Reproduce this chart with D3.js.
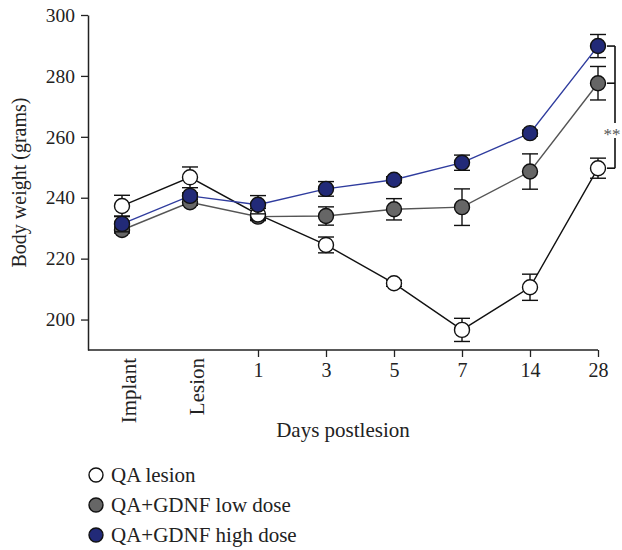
<!DOCTYPE html>
<html>
<head>
<meta charset="utf-8">
<script src="https://cdn.jsdelivr.net/npm/d3@7"></script>
<style>
  body { margin: 0; background: #fff; }
  svg text { font-family: "Liberation Serif", "DejaVu Serif", serif; fill: #222; }
</style>
</head>
<body>
<svg id="chart" width="622" height="550"></svg>
<script>
'use strict';

var days = ['Implant', 'Lesion', '1', '3', '5', '7', '14', '28'];
var yTicks = [200, 220, 240, 260, 280, 300];

var qaLesion = [237.3, 246.7, 234.5, 224.5, 211.9, 196.6, 210.6, 249.7];
var qaLesionErr = [3.5, 3.4, 2, 2.6, 1, 3.8, 4.3, 3.3];
var lowDose = [229.4, 238.5, 233.8, 234.0, 236.2, 236.9, 248.6, 277.6];
var lowDoseErr = [1, 1, 1, 3, 3.5, 6, 5.8, 5.5];
var highDose = [231.4, 240.6, 237.7, 242.9, 245.9, 251.5, 261.2, 289.8];
var highDoseErr = [2.6, 1, 3, 2.4, 1, 2.5, 1, 3.8];

var seriesNames = ['QA lesion', 'QA+GDNF low dose', 'QA+GDNF high dose'];

var series = [
  { name: seriesNames[1], values: lowDose, err: lowDoseErr, fill: '#666666', line: '#555555' },
  { name: seriesNames[0], values: qaLesion, err: qaLesionErr, fill: '#ffffff', line: '#111111' },
  { name: seriesNames[2], values: highDose, err: highDoseErr, fill: '#222a78', line: '#2f3c9e' }
];

(function() {
  var svg = d3.select('#chart');

  var left = 88, bottom = 350, topY = 15;

  var x = d3.scalePoint()
    .domain(days)
    .range([122, 598]);

  var y = d3.scaleLinear()
    .domain([190, 300])
    .range([bottom, topY]);

  // y axis
  var yAxis = svg.append('g')
    .attr('transform', `translate(${left},0)`)
    .call(d3.axisLeft(y).tickValues(yTicks).tickSize(7).tickSizeOuter(0).tickPadding(6));
  yAxis.select('.domain').attr('stroke', '#222').attr('stroke-width', 1.5);
  yAxis.selectAll('.tick line').attr('stroke', '#222').attr('stroke-width', 1.3);
  yAxis.selectAll('.tick text')
    .style('font-size', '19.5px');

  // x axis
  var xAxis = svg.append('g')
    .attr('transform', `translate(0,${bottom})`)
    .call(d3.axisBottom(x).tickSize(7).tickSizeOuter(0).tickPadding(6));
  xAxis.select('.domain').remove();
  xAxis.append('line')
    .attr('x1', left)
    .attr('x2', x(days[days.length - 1]))
    .attr('stroke', '#222')
    .attr('stroke-width', 1.5);
  xAxis.selectAll('.tick line').attr('stroke', '#222').attr('stroke-width', 1.3);
  xAxis.selectAll('.tick text').style('font-size', '20px');

  // the two pre-lesion labels are vertical and have no tick mark
  xAxis.selectAll('.tick')
    .filter(function(d) { return d === 'Implant' || d === 'Lesion'; })
    .each(function() {
      var t = d3.select(this);
      t.select('line').remove();
      t.select('text')
        .attr('transform', 'rotate(-90)')
        .attr('x', -8)
        .attr('y', 6)
        .attr('dy', '0.35em')
        .attr('text-anchor', 'end')
        .style('font-size', '21px');
    });

  svg.append('text')
    .attr('transform', `translate(26,${(topY + bottom) / 2}) rotate(-90)`)
    .attr('text-anchor', 'middle')
    .style('font-size', '20px')
    .text('Body weight (grams)');

  svg.append('text')
    .attr('x', 343)
    .attr('y', 437)
    .attr('text-anchor', 'middle')
    .style('font-size', '21px')
    .text('Days postlesion');

  var line = d3.line()
    .x(function(d, i) { return x(days[i]); })
    .y(function(d) { return y(d); });

  var capW = 8;

  series.forEach(function(s) {
    var g = svg.append('g');

    g.append('path')
      .datum(s.values)
      .attr('d', line)
      .attr('fill', 'none')
      .attr('stroke', s.line)
      .attr('stroke-width', 1.4);

    var eb = g.selectAll('.err')
      .data(s.values)
      .enter()
      .append('g')
      .attr('stroke', '#111')
      .attr('stroke-width', 1.4);

    eb.append('line')
      .attr('x1', function(d, i) { return x(days[i]); })
      .attr('x2', function(d, i) { return x(days[i]); })
      .attr('y1', function(d, i) { return y(d + s.err[i]); })
      .attr('y2', function(d, i) { return y(d - s.err[i]); });

    [1, -1].forEach(function(sign) {
      eb.append('line')
        .attr('x1', function(d, i) { return x(days[i]) - capW; })
        .attr('x2', function(d, i) { return x(days[i]) + capW; })
        .attr('y1', function(d, i) { return y(d + sign * s.err[i]); })
        .attr('y2', function(d, i) { return y(d + sign * s.err[i]); });
    });

    g.selectAll('circle')
      .data(s.values)
      .enter()
      .append('circle')
      .attr('cx', function(d, i) { return x(days[i]); })
      .attr('cy', function(d) { return y(d); })
      .attr('r', 7.5)
      .attr('fill', s.fill)
      .attr('stroke', '#111')
      .attr('stroke-width', 1.4);
  });

  // significance bracket at day 28
  var last = days.length - 1;
  var bx = 615;
  var bTop = y(highDose[last]);
  var bBot = y(qaLesion[last]);
  var starY = 131;
  var bracket = svg.append('g')
    .attr('stroke', '#111')
    .attr('stroke-width', 1.6);
  bracket.append('line').attr('x1', bx).attr('x2', bx).attr('y1', bTop).attr('y2', starY - 8);
  bracket.append('line').attr('x1', bx).attr('x2', bx).attr('y1', starY + 7).attr('y2', bBot);
  [highDose[last], lowDose[last], qaLesion[last]].forEach(function(v) {
    bracket.append('line')
      .attr('x1', 607)
      .attr('x2', bx)
      .attr('y1', y(v))
      .attr('y2', y(v));
  });
  svg.append('text')
    .attr('x', 612)
    .attr('y', starY + 9)
    .attr('text-anchor', 'middle')
    .style('font-size', '17px')
    .style('fill', '#555')
    .text('**');

  // legend
  var legendOrder = [series[1], series[0], series[2]];
  var legend = svg.selectAll('.legend')
    .data(legendOrder)
    .enter()
    .append('g')
    .attr('transform', function(d, i) {
      return `translate(96,${475 + i * 30})`;
    });

  legend.append('circle')
    .attr('r', 7)
    .attr('fill', function(d) { return d.fill; })
    .attr('stroke', '#111')
    .attr('stroke-width', 1.4);

  legend.append('text')
    .attr('x', 15)
    .attr('y', 0)
    .attr('dy', '0.35em')
    .style('font-size', '21px')
    .text(function(d) { return d.name; });
})();
</script>
</body>
</html>
